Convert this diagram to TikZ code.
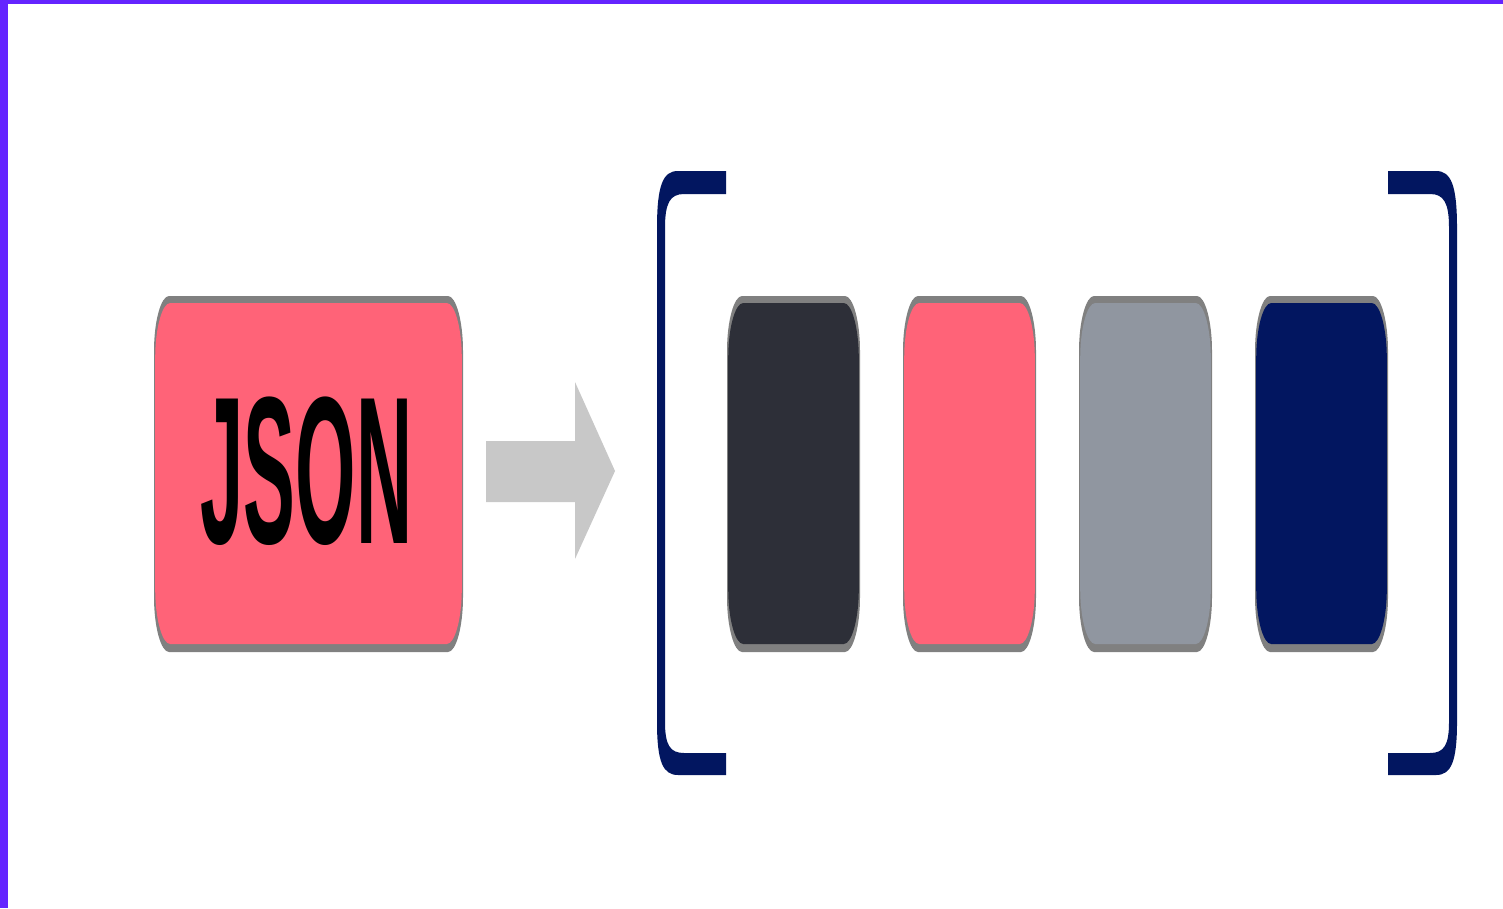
\documentclass[tikz,border=0pt]{standalone}
\usepackage{fontspec}
\usepackage{graphicx}
\setmainfont{Liberation Sans}
\definecolor{purp}{RGB}{100,36,255}
\definecolor{navy}{RGB}{2,22,96}
\definecolor{darkbox}{RGB}{45,47,56}
\definecolor{pinkbox}{RGB}{255,99,120}
\definecolor{graybox}{RGB}{144,150,160}
\definecolor{edgegray}{RGB}{128,128,128}
\definecolor{arrowgray}{RGB}{200,200,200}
\newcommand\eboxpath[4]{(#1,#2+55) .. controls (#1,#2+25) and (#1+7,#2) .. (#1+15,#2) -- (#3-15,#2) .. controls (#3-7,#2) and (#3,#2+25) .. (#3,#2+55) -- (#3,#4-55) .. controls (#3,#4-25) and (#3-7,#4) .. (#3-15,#4) -- (#1+15,#4) .. controls (#1+7,#4) and (#1,#4-25) .. (#1,#4-55) -- cycle}
\newcommand\ebox[5]{%
  \fill[edgegray] \eboxpath{#1}{#2}{#3}{#4};
  \fill[#5] \eboxpath{#1+1.2}{#2+7}{#3-1.2}{#4-8};
}
\begin{document}
\begin{tikzpicture}[x=1pt,y=-1pt]
\useasboundingbox (0,0) rectangle (1503,908);
\fill[white] (0,0) rectangle (1503,908);
% purple frame edges
\fill[purp] (0,0) rectangle (8,908);
\fill[purp] (0,0) rectangle (1503,4);
% JSON box
\ebox{154}{296}{463}{652}{pinkbox}
\node (json) at (306.5,471.5) {\scalebox{0.37}[1]{\fontsize{210}{210}\selectfont\bfseries JSON}};
% arrow
\fill[arrowgray] (486,441) -- (575,441) -- (575,382) -- (615,471) -- (575,559) -- (575,502) -- (486,502) -- cycle;
% left bracket
\fill[navy] (726,171) -- (678,171) .. controls (663,171) and (657,185) .. (657,228) -- (657,722) .. controls (657,762) and (663,775) .. (678,775) -- (726,775) -- (726,753) -- (684,753) .. controls (670,753) and (665,745) .. (665,722) -- (665,228) .. controls (665,203) and (670,194) .. (684,194) -- (726,194) -- cycle;
% right bracket
\fill[navy] (1388,171) -- (1436,171) .. controls (1451,171) and (1457,185) .. (1457,228) -- (1457,722) .. controls (1457,762) and (1451,775) .. (1436,775) -- (1388,775) -- (1388,753) -- (1430,753) .. controls (1444,753) and (1449,745) .. (1449,722) -- (1449,228) .. controls (1449,203) and (1444,194) .. (1430,194) -- (1388,194) -- cycle;
% array items
\ebox{727}{296}{860}{652}{darkbox}
\ebox{903}{296}{1036}{652}{pinkbox}
\ebox{1079}{296}{1212}{652}{graybox}
\ebox{1255}{296}{1388}{652}{navy}
\node (item1) at (793.5,474) {};
\node (item2) at (969.5,474) {};
\node (item3) at (1145.5,474) {};
\node (item4) at (1321.5,474) {};
\end{tikzpicture}
\end{document}
